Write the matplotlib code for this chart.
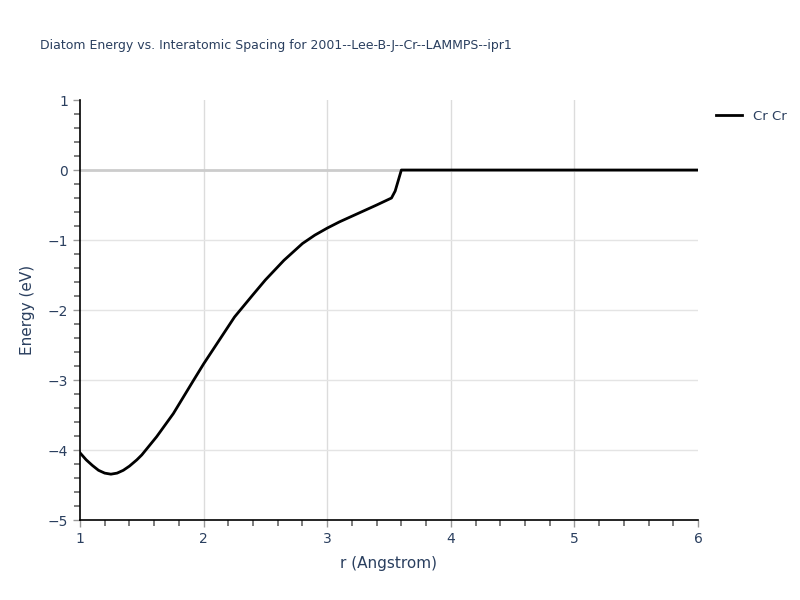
import matplotlib
matplotlib.use("Agg")
import matplotlib.pyplot as plt
from matplotlib.ticker import MultipleLocator

r = [1.0, 1.05, 1.1, 1.15, 1.2, 1.25, 1.3, 1.35, 1.4, 1.46, 1.5, 1.62, 1.755, 1.92, 2.0, 2.25, 2.4, 2.5, 2.65, 2.8, 2.9, 3.0, 3.1, 3.25, 3.4, 3.52, 3.55, 3.6, 4.0, 5.0, 6.0]
energy = [-4.04, -4.14, -4.22, -4.29, -4.33, -4.345, -4.33, -4.29, -4.23, -4.14, -4.07, -3.81, -3.48, -3.0, -2.77, -2.10, -1.78, -1.57, -1.29, -1.05, -0.93, -0.83, -0.74, -0.62, -0.50, -0.40, -0.30, 0.0, 0.0, 0.0, 0.0]
xticks = [1, 2, 3, 4, 5, 6]
yticks = [1, 0, -1, -2, -3, -4, -5]
yticklabels = ["1", "0", "\u22121", "\u22122", "\u22123", "\u22124", "\u22125"]

txt = "#2a3f5f"
fig = plt.figure(figsize=(8, 6), dpi=100)
ax = fig.add_axes([0.1, 0.1333, 0.7725, 0.7])
ax.plot(r, energy, color="black", lw=2, label="Cr Cr", zorder=3)
ax.set_xlim(1, 6)
ax.set_ylim(-5, 1)
ax.set_xticks(xticks)
ax.set_yticks(yticks)
ax.set_yticklabels(yticklabels)
ax.xaxis.set_minor_locator(MultipleLocator(0.2))
ax.yaxis.set_minor_locator(MultipleLocator(0.2))
for xv in xticks[1:-1]:
    ax.axvline(xv, color="#dcdcdc", lw=1, zorder=1)
for yv in yticks[2:-1]:
    ax.axhline(yv, color="#e4e4e4", lw=1, zorder=1)
ax.axhline(0, color="#cccccc", lw=2, zorder=1)
for s in ["top", "right"]:
    ax.spines[s].set_visible(False)
for s in ["left", "bottom"]:
    ax.spines[s].set_color("black")
    ax.spines[s].set_linewidth(1.2)
    ax.spines[s].set_zorder(4)
ax.tick_params(which="major", direction="out", length=5, width=1, color="#999999", labelcolor=txt, labelsize=10)
ax.tick_params(which="minor", direction="out", length=4, width=1.2, color="#666666")
ax.set_xlabel("r (Angstrom)", color=txt, fontsize=11, labelpad=7)
ax.set_ylabel("Energy (eV)", color=txt, fontsize=11, labelpad=9)
fig.text(0.05, 0.925, "Diatom Energy vs. Interatomic Spacing for 2001--Lee-B-J--Cr--LAMMPS--ipr1",
         color=txt, fontsize=9, ha="left", va="center")
leg = ax.legend(loc="upper left", bbox_to_anchor=(1.01, 1.005), frameon=False, fontsize=9.5,
                handlelength=2.0, labelcolor=txt)
fig.savefig("out.png", dpi=100)
